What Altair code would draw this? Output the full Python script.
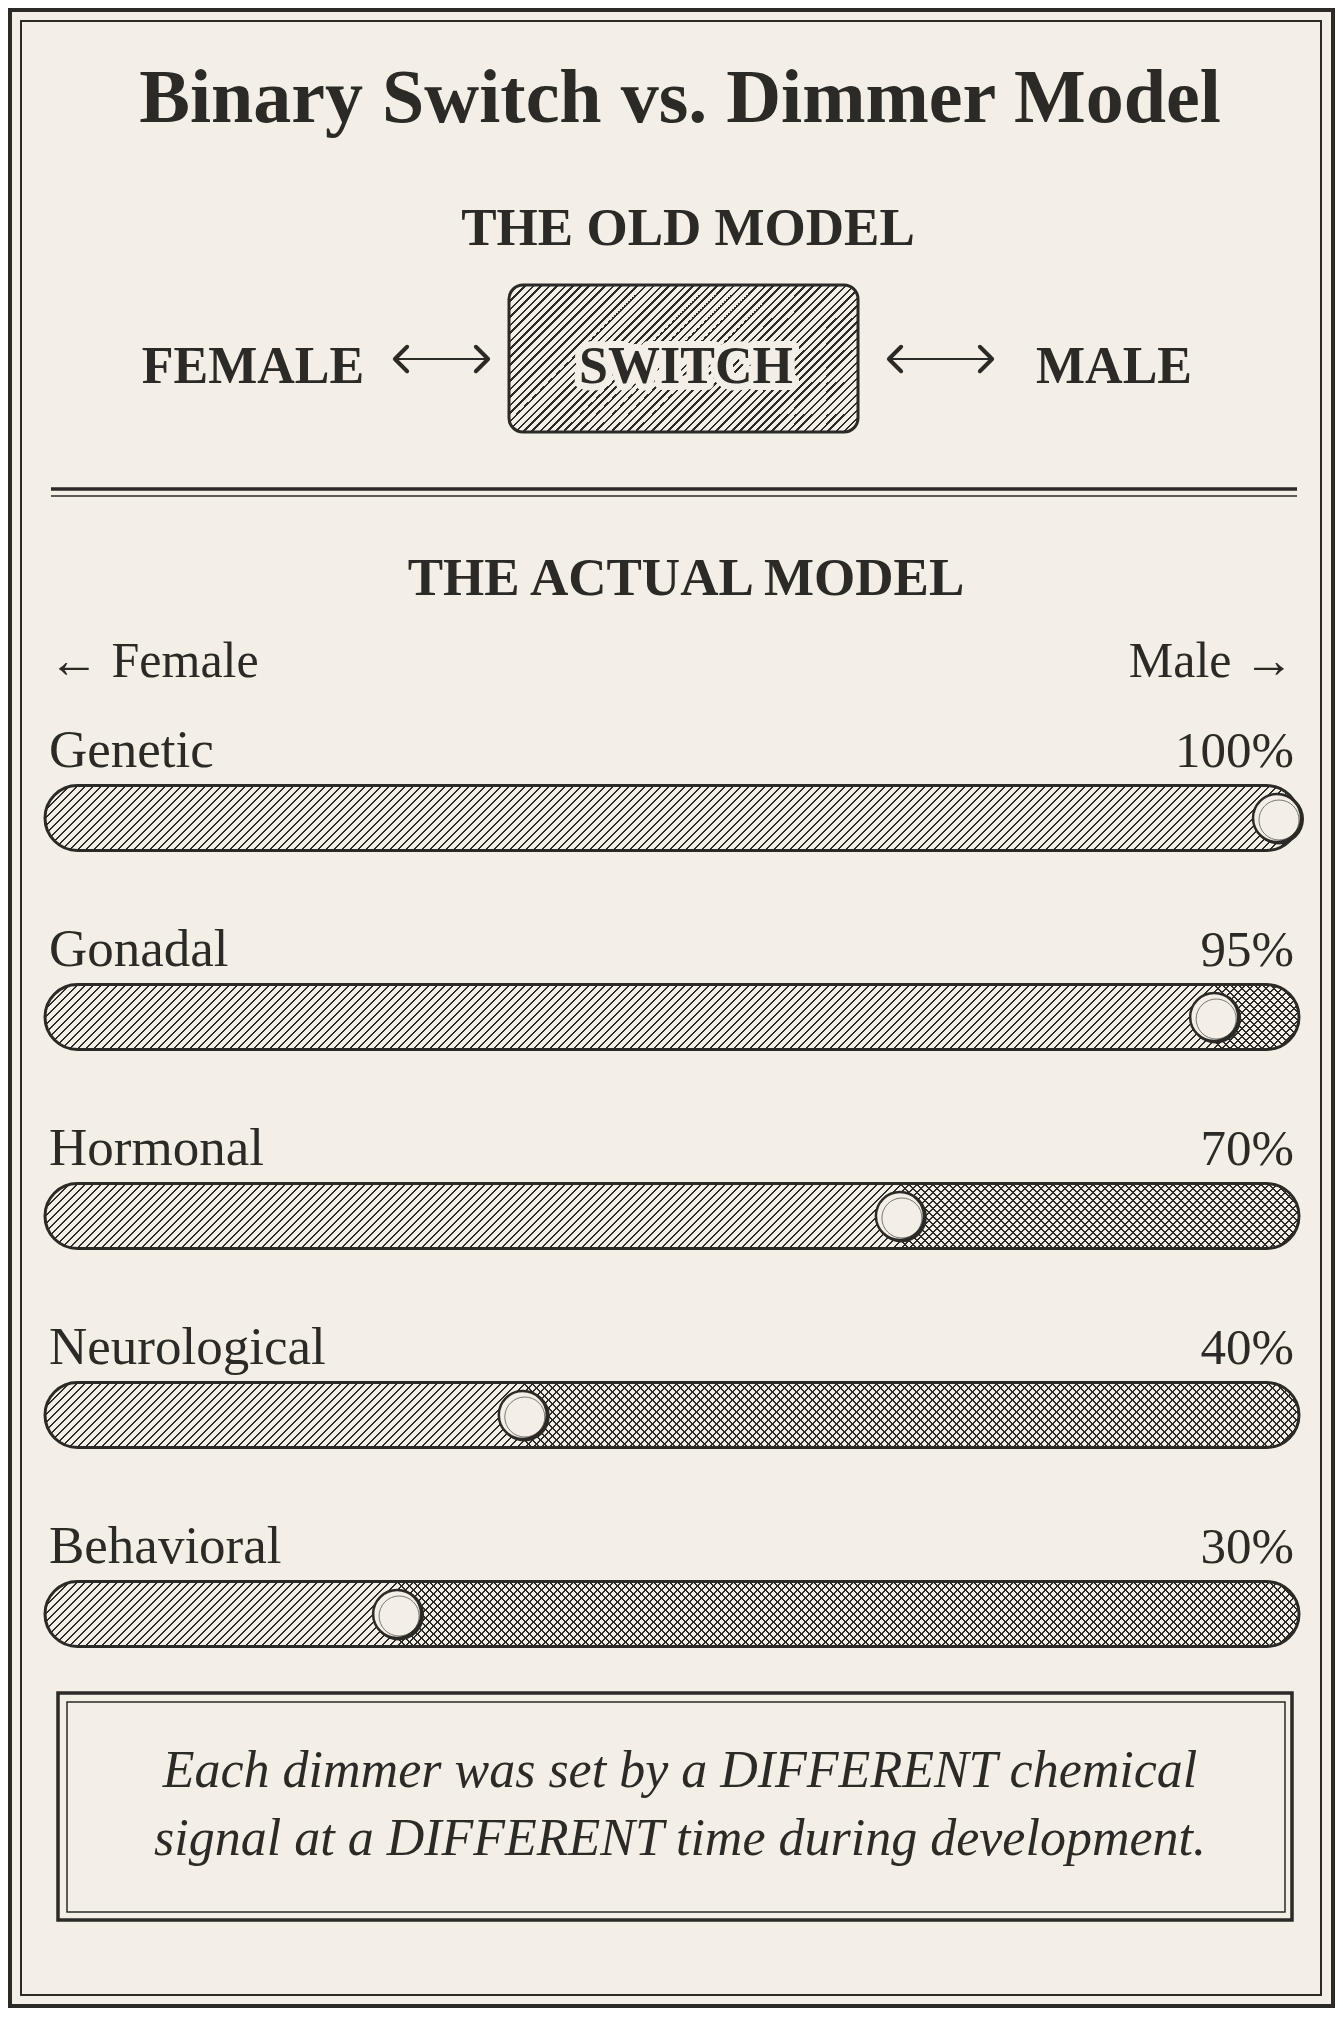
import altair as alt
import pandas as pd

# ---------------- data ----------------
factors = ["Genetic", "Gonadal", "Hormonal", "Neurological", "Behavioral"]
male_pct = [100, 95, 70, 40, 30]
title_text = "Binary Switch vs. Dimmer Model"
old_heading = "THE OLD MODEL"
old_terms = ["FEMALE", "SWITCH", "MALE"]
new_heading = "THE ACTUAL MODEL"
axis_left = "← Female"
axis_right = "Male →"
note_lines = ["Each dimmer was set by a DIFFERENT chemical",
              "signal at a DIFFERENT time during development."]

# ---------------- style ----------------
PAPER = "#f3efe6"
INK = "#2b2a27"
SERIF = "Liberation Serif"
W, H = 1327, 2000
X0, X1 = 12, 1269          # pixel positions of 0% and 100%
TRACK_L, TRACK_R = 25, 22  # how far the rounded track extends past 0% / 100%
BAR_H = 65
Y_RANGE = [810, 1606]


def hatch(w, h, direction, period=8.0, frac=0.28, ink=INK, paper=PAPER):
    """Striped linear gradient giving 45-degree hatching on a w x h box."""
    r = h / w
    s = (1 + r) / (1 + r * r)
    if direction == "/":
        x1, y1, x2, y2 = 0, 0, s, r * s
    else:
        x1, y1, x2, y2 = 0, 1, s, 1 - r * s
    pt = period / (w + h)
    stops = []
    k = 0
    while k * pt < 1:
        a = k * pt
        b = min(a + frac * pt, 1)
        c = min(a + pt, 1)
        stops += [{"offset": a, "color": ink}, {"offset": b, "color": ink},
                  {"offset": b, "color": paper}, {"offset": c, "color": paper}]
        k += 1
    return {"gradient": "linear", "x1": x1, "y1": y1, "x2": x2, "y2": y2, "stops": stops}


df = pd.DataFrame({"factor": factors, "pct": male_pct,
                   "start": [0] * len(factors), "end": [100] * len(factors)})
df["label"] = df["pct"].astype(str) + "%"

xs = alt.Scale(domain=[0, 100], range=[X0, X1])
ys = alt.Scale(type="point", domain=factors, range=Y_RANGE, padding=0)
X = lambda f: alt.X(f, scale=xs, axis=None)
Y = alt.Y("factor:N", scale=ys, axis=None)

base = alt.Chart(df)
dec = alt.Chart(pd.DataFrame({"k": [0]}))


def txt(s, x, y, size, weight="normal", align="center", style="normal", font=SERIF, **kw):
    return dec.mark_text(text=s, align=align, baseline="alphabetic", fontSize=size,
                         fontWeight=weight, fontStyle=style, font=font, fill=INK, **kw
                         ).encode(x=alt.value(x), y=alt.value(y))


def box(x0, x1, y0, y1, sw, cr=0, fill="transparent"):
    return dec.mark_rect(fill=fill, stroke=INK, strokeWidth=sw, cornerRadius=cr
                         ).encode(x=alt.value(x0), x2=alt.value(x1), y=alt.value(y0), y2=alt.value(y1))


def hrule(x0, x1, y, sw):
    return dec.mark_rule(stroke=INK, strokeWidth=sw).encode(
        x=alt.value(x0), x2=alt.value(x1), y=alt.value(y))


LEFT_HEAD = "M 0.5 -1 L -0.5 0 L 0.5 1"
RIGHT_HEAD = "M -0.5 -1 L 0.5 0 L -0.5 1"


def arrow(x0, x1, y):
    shaft = dec.mark_rule(stroke=INK, strokeWidth=2).encode(
        x=alt.value(x0 + 2), x2=alt.value(x1 - 2), y=alt.value(y))
    lh = dec.mark_point(shape=LEFT_HEAD, filled=False, stroke=INK, strokeWidth=4, size=600,
                        opacity=1, strokeCap="round", strokeJoin="round"
                        ).encode(x=alt.value(x0 + 6), y=alt.value(y))
    rh = dec.mark_point(shape=RIGHT_HEAD, filled=False, stroke=INK, strokeWidth=4, size=600,
                        opacity=1, strokeCap="round", strokeJoin="round"
                        ).encode(x=alt.value(x1 - 6), y=alt.value(y))
    return [shaft, lh, rh]


layers = []
# card borders
layers += [box(2, 1325, 2, 1998, 4), box(13, 1313, 13, 1987, 2)]
# title + old model
layers.append(txt(title_text, 672, 114, 76, weight="bold"))
layers.append(txt(old_heading, 680, 237, 53, weight="bold"))
sw_x0, sw_x1, sw_y0, sw_y1 = 501, 850, 277, 424
layers.append(box(sw_x0, sw_x1, sw_y0, sw_y1, 3, cr=14,
                  fill=hatch(sw_x1 - sw_x0, sw_y1 - sw_y0, "/")))
layers.append(txt(old_terms[0], 245, 375, 52, weight="bold"))
layers.append(txt(old_terms[1], 678, 375, 52, weight="bold", stroke=PAPER,
                  strokeWidth=14, strokeJoin="round"))
layers.append(txt(old_terms[1], 678, 375, 52, weight="bold"))
layers.append(txt(old_terms[2], 1106, 375, 52, weight="bold"))
layers += arrow(387, 480, 351)
layers += arrow(881, 984, 351)
# divider
layers += [hrule(43, 1289, 481, 3.5), hrule(43, 1289, 488, 1.5)]
# actual model header
layers.append(txt(new_heading, 678, 587, 53, weight="bold"))
layers.append(txt(axis_left, 41, 669, 50, align="left"))
layers.append(txt(axis_right, 1286, 669, 50, align="right"))

# tracks
track_w = (X1 + TRACK_R) - (X0 + TRACK_L)
layers.append(base.mark_bar(fill=hatch(track_w, BAR_H, "/"), cornerRadius=BAR_H / 2,
                            xOffset=TRACK_L, x2Offset=TRACK_R, size=BAR_H)
              .encode(x=X("start:Q"), x2="end:Q", y=Y))
for f, p in zip(factors, male_pct):
    wpx = (X1 + TRACK_R) - (X0 + (X1 - X0) * p / 100)
    if wpx < 30:
        continue
    layers.append(base.transform_filter(alt.datum.factor == f)
                  .mark_bar(fill=hatch(wpx, BAR_H, "\\", paper="rgba(0,0,0,0)"),
                            cornerRadiusTopRight=BAR_H / 2, cornerRadiusBottomRight=BAR_H / 2,
                            x2Offset=TRACK_R, size=BAR_H)
                  .encode(x=X("pct:Q"), x2="end:Q", y=Y))
layers.append(base.mark_bar(fill="transparent", stroke=INK, strokeWidth=3, cornerRadius=BAR_H / 2,
                            xOffset=TRACK_L, x2Offset=TRACK_R, size=BAR_H)
              .encode(x=X("start:Q"), x2="end:Q", y=Y))
# knobs (circle symbol diameter = sqrt(size))
layers.append(base.mark_circle(size=2600, fill=INK, opacity=1, xOffset=1.5, yOffset=1)
              .encode(x=X("pct:Q"), y=Y))
layers.append(base.mark_circle(size=2300, fill=PAPER, stroke=INK, strokeWidth=2.5, opacity=1)
              .encode(x=X("pct:Q"), y=Y))
layers.append(base.mark_circle(size=1600, fill="transparent", stroke=INK, strokeWidth=1,
                               opacity=0.6, xOffset=2, yOffset=2)
              .encode(x=X("pct:Q"), y=Y))
# labels
layers.append(base.mark_text(align="left", baseline="alphabetic", dy=-51, font=SERIF,
                             fontSize=53, fill=INK)
              .encode(x=alt.value(41), y=Y, text="factor:N"))
layers.append(base.mark_text(align="right", baseline="alphabetic", dy=-51, font=SERIF,
                             fontSize=51, fill=INK)
              .encode(x=alt.value(1286), y=Y, text="label:N"))

# note box
layers += [box(50, 1284, 1685, 1912, 3.5), box(59, 1277, 1694, 1904, 1.5)]
layers.append(txt(note_lines[0], 672, 1779, 52, style="italic"))
layers.append(txt(note_lines[1], 672, 1847, 52, style="italic"))

chart = alt.layer(*layers).properties(
    width=W, height=H, padding=0,
    autosize=alt.AutoSizeParams(type="none"),
    background=PAPER,
).configure_view(stroke=None)

chart.save("out.html", embed_options={"renderer": "svg", "actions": False})
